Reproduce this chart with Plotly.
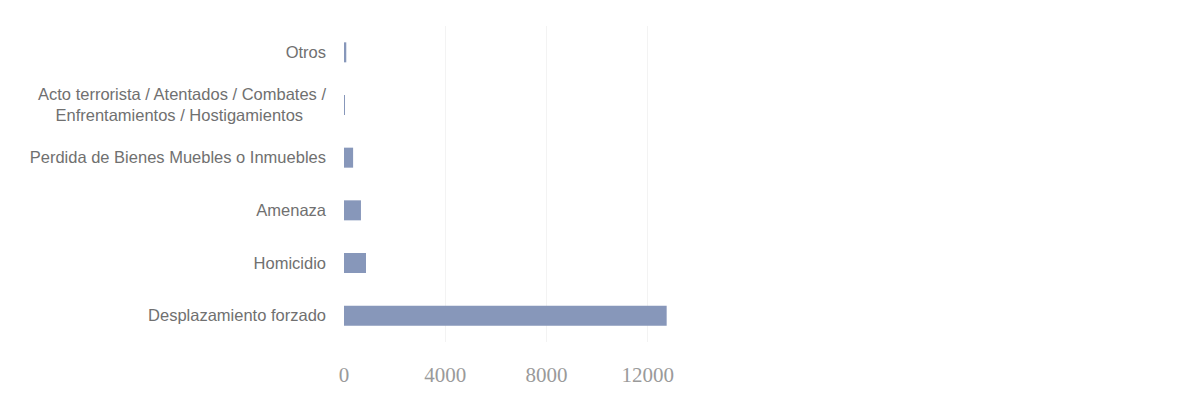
import plotly.graph_objects as go

categories = [
    "Desplazamiento forzado",
    "Homicidio",
    "Amenaza",
    "Perdida de Bienes Muebles o Inmuebles",
    "Acto terrorista / Atentados / Combates /<br>Enfrentamientos / Hostigamientos\u00a0\u00a0\u00a0\u00a0\u00a0",
    "Otros",
]
values = [12750, 870, 670, 360, 30, 90]
x_ticks = [0, 4000, 8000, 12000]

fig = go.Figure(
    go.Bar(
        x=values,
        y=categories,
        orientation="h",
        marker=dict(color="#8797ba", line=dict(width=0)),
        width=0.38,
    )
)

fig.update_layout(
    width=1193,
    height=399,
    margin=dict(l=336, r=528, t=18, b=65),
    paper_bgcolor="white",
    plot_bgcolor="white",
    showlegend=False,
    xaxis=dict(
        range=[0, 13000],
        tickvals=x_ticks,
        ticktext=[str(v) for v in x_ticks],
        showgrid=True,
        gridcolor="#f3f3f3",
        gridwidth=1,
        zeroline=False,
        showline=False,
        automargin=False,
        tickfont=dict(family="Liberation Serif, DejaVu Serif, serif", size=21, color="#9a9a9a"),
        ticklabelstandoff=18,
        fixedrange=True,
    ),
    yaxis=dict(
        categoryorder="array",
        categoryarray=categories,
        showgrid=False,
        zeroline=False,
        showline=False,
        automargin=False,
        tickfont=dict(family="Liberation Sans, Arial, sans-serif", size=16.5, color="#707070"),
        ticklabelstandoff=17,
        fixedrange=True,
    ),
)

fig.write_html("out.html")
